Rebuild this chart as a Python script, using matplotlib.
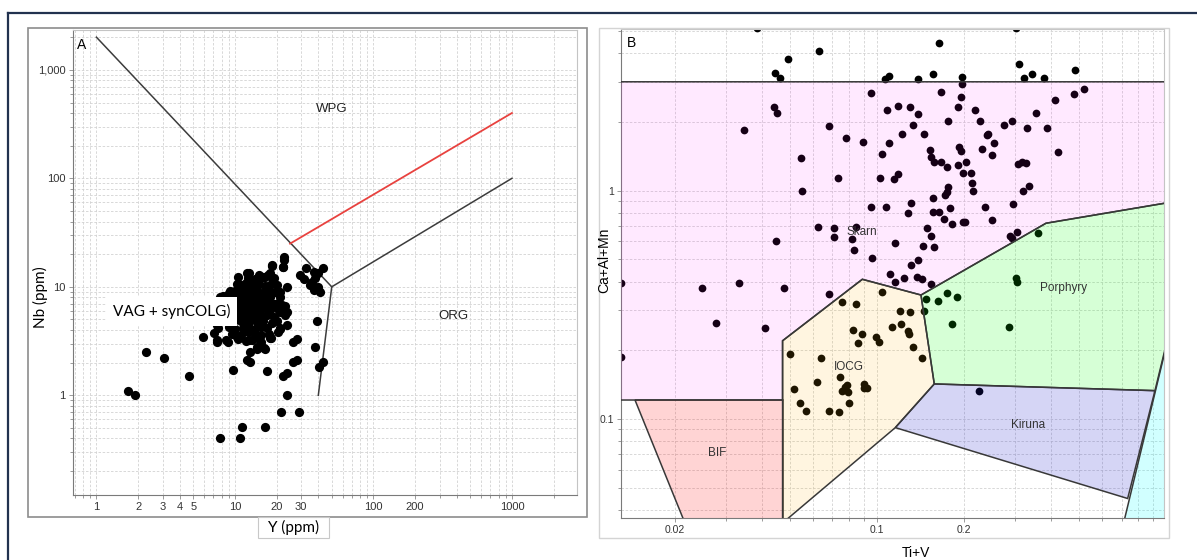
import matplotlib
matplotlib.use("Agg")
import matplotlib.pyplot as plt
import numpy as np
from matplotlib.patches import Polygon, Rectangle
from matplotlib.lines import Line2D
from matplotlib.ticker import FixedLocator, LogLocator, NullFormatter

W, H = 1197, 560

# ---------------- panel A : Nb vs Y (Pearce) ----------------
a_xticks = [1, 2, 3, 4, 5, 10, 20, 30, 100, 200, 1000]
a_xlabels = ["1", "2", "3", "4", "5", "10", "20", "30", "100", "200", "1000"]
a_yticks = [1, 10, 100, 1000]
a_ylabels = ["1", "10", "100", "1,000"]

# field boundaries (Y, Nb)
a_wpg_y, a_wpg_nb = [1, 50], [2000, 10]
a_org_y, a_org_nb = [50, 1000], [10, 100]
a_vag_y, a_vag_nb = [40, 50], [1, 10]
a_red_y, a_red_nb = [25, 1000], [25, 400]

# samples (Y ppm, Nb ppm)
a_outliers = [
    (1.70, 1.10), (1.89, 1.00), (2.28, 2.49), (3.09, 2.21), (4.69, 1.52),
    (7.8, 0.40), (10.8, 0.40), (11.2, 0.51), (16.6, 0.51),
    (9.64, 1.70), (12.2, 2.11), (12.9, 2.01), (17.1, 1.69),
    (21.5, 0.70), (29.2, 0.70), (23.6, 1.00), (22.4, 1.51), (23.9, 1.62),
    (26.1, 2.01), (27.9, 2.11), (26.4, 3.10), (28.2, 3.30),
    (38.1, 2.79), (40.3, 1.81), (43.3, 2.01), (39.0, 4.80),
    (5.9, 3.42), (7.1, 3.73), (7.39, 3.10), (8.87, 3.10),
    (13.2, 3.24), (14.4, 2.80), (16.2, 2.71), (18.3, 3.35), (20.4, 3.86),
]
a_right = [
    (29.6, 12.9), (31.6, 11.9), (32.5, 14.8), (37.1, 13.8), (39.5, 13.3),
    (43.6, 14.8), (36.0, 11.1), (39.5, 10.0), (41.0, 9.0), (37.0, 9.3),
    (34.8, 10.4), (38.0, 12.0),
]
a_core = [
    (10.5, 12.2), (12.5, 12.0), (14.0, 11.8), (16.0, 12.3), (19.0, 12.0),
    (10.3, 10.6), (11.0, 10.3), (12.0, 10.8), (13.5, 10.4), (15.0, 10.7),
    (16.5, 10.2), (18.0, 10.5), (20.0, 10.3),
    (9.6, 9.0), (10.0, 9.2), (11.5, 8.9), (12.5, 9.3), (13.5, 9.0), (14.5, 9.4),
    (16.0, 8.8), (17.5, 9.1), (19.5, 9.0),
    (8.6, 8.1), (9.5, 7.9), (10.5, 8.2), (11.5, 7.8), (12.5, 8.1), (13.5, 7.9),
    (15.0, 8.2), (16.5, 7.8), (18.0, 8.0), (21.0, 8.1),
    (8.0, 7.0), (9.0, 7.1), (10.0, 6.9), (11.0, 7.2), (12.0, 7.0), (13.0, 6.8),
    (14.0, 7.1), (15.0, 6.9), (16.0, 7.2), (17.5, 6.9), (19.0, 7.0), (22.0, 6.8),
    (7.5, 6.2), (8.5, 6.3), (9.5, 6.1), (10.5, 6.4), (11.5, 6.2), (12.5, 6.0),
    (13.5, 6.3), (14.5, 6.1), (16.0, 6.4), (18.0, 6.1), (20.5, 6.2),
    (8.0, 5.5), (9.0, 5.6), (10.0, 5.4), (11.0, 5.6), (12.0, 5.5), (13.0, 5.3),
    (14.0, 5.6), (15.5, 5.4), (17.0, 5.5), (19.0, 5.3), (23.0, 5.5),
    (7.0, 4.8), (8.0, 4.9), (9.0, 4.7), (10.0, 4.9), (11.0, 4.8), (12.0, 4.6),
    (13.0, 4.9), (14.5, 4.7), (16.0, 4.8), (18.5, 4.6),
    (7.5, 4.2), (9.0, 4.3), (10.0, 4.1), (11.5, 4.2), (12.5, 4.4), (14.0, 4.1),
    (15.5, 4.3), (17.0, 4.2), (21.0, 4.2),
    (9.5, 3.7), (11.0, 3.6), (12.5, 3.8), (14.0, 3.7), (15.5, 3.6), (17.5, 3.7),
    (10.5, 3.3), (12.0, 3.2), (15.0, 3.3),
    (13.6, 11.1), (18.9, 11.6), (23.6, 10.0), (21.2, 9.0), (10.9, 10.0),
    (9.2, 9.1), (8.2, 8.2), (7.8, 7.5), (7.0, 6.3), (6.6, 5.3), (7.4, 4.4),
    (20.5, 7.1), (23.0, 6.6), (23.7, 5.9), (21.2, 5.9), (20.0, 4.8), (23.7, 4.4),
    (17.9, 3.4), (21.2, 4.1), (15.3, 3.1), (16.4, 2.7), (14.4, 2.7), (12.9, 2.5),
    (12.6, 3.24), (10.3, 3.46), (8.6, 3.24), (7.4, 3.24), (7.8, 8.1), (9.1, 8.8),
    (12.6, 13.3), (17.3, 12.9), (18.4, 15.9), (22.3, 15.3), (22.5, 17.7),
    (14.9, 12.8), (16.4, 12.3), (12.2, 13.3), (17.9, 13.3), (18.4, 15.5),
    (22.7, 18.7), (22.4, 15.3),
]
a_points = a_outliers + a_right + a_core
a_y = [p[0] for p in a_points]
a_nb = [p[1] for p in a_points]

# ---------------- panel B : Ca+Al+Mn vs Ti+V ----------------
b_xticks = [0.02, 0.1, 0.2]
b_xlabels = ["0.02", "0.1", "0.2"]
b_yticks = [0.1, 1]
b_ylabels = ["0.1", "1"]

skarn = [(0.01, 3), (1.0, 3), (1.0, 0.884), (0.3834, 0.720), (0.1419, 0.349),
         (0.0890, 0.409), (0.0472, 0.220), (0.0472, 0.121), (0.01, 0.121)]
bif = [(0.0146, 0.121), (0.0472, 0.121), (0.0472, 0.03), (0.0227, 0.03)]
iocg = [(0.0472, 0.220), (0.0890, 0.409), (0.1419, 0.349), (0.1577, 0.1423),
        (0.1157, 0.0916), (0.0472, 0.035)]
porphyry = [(0.1419, 0.349), (0.3834, 0.720), (1.0, 0.884), (1.0, 0.215),
            (0.912, 0.133), (0.1577, 0.1423)]
kiruna = [(0.1577, 0.1423), (0.912, 0.133), (0.734, 0.0448), (0.1157, 0.0916)]
cyan_field = [(1.0, 0.215), (1.0, 0.03), (0.688, 0.03)]

b_points = [
    # above the skarn field
    (0.0385, 5.15), (0.0631, 4.09), (0.0494, 3.78), (0.0446, 3.28), (0.0464, 3.13),
    (0.1066, 3.08), (0.1103, 3.19), (0.301, 5.15), (0.164, 4.42), (0.310, 3.58),
    (0.483, 3.38), (0.1564, 3.24), (0.196, 3.16), (0.1382, 3.08), (0.322, 3.11),
    (0.344, 3.24), (0.378, 3.11),
    # skarn
    (0.0951, 2.68), (0.0442, 2.32), (0.0453, 2.20), (0.108, 2.26), (0.118, 2.35),
    (0.1297, 2.33), (0.1335, 1.94), (0.0348, 1.85), (0.0683, 1.93), (0.078, 1.70),
    (0.0893, 1.64), (0.1103, 1.61), (0.1223, 1.78), (0.1038, 1.45), (0.0545, 1.39),
    (0.0735, 1.14), (0.1024, 1.14), (0.1147, 1.13), (0.118, 1.18), (0.0550, 1.0),
    (0.0956, 0.851), (0.1072, 0.851), (0.1307, 0.883), (0.128, 0.796),
    (0.1966, 2.92), (0.1663, 2.71), (0.519, 2.79), (0.479, 2.65), (0.195, 2.57),
    (0.1905, 2.33), (0.218, 2.26), (0.1382, 2.16), (0.412, 2.49), (0.355, 2.18),
    (0.1754, 2.02), (0.227, 2.02), (0.275, 1.94), (0.292, 2.02), (0.330, 1.89),
    (0.385, 1.89), (0.1457, 1.78), (0.239, 1.75), (0.241, 1.78), (0.254, 1.62),
    (0.423, 1.47), (0.1524, 1.50), (0.1536, 1.41), (0.1574, 1.33), (0.1924, 1.56),
    (0.195, 1.49), (0.230, 1.52), (0.249, 1.43), (0.1663, 1.33), (0.174, 1.27),
    (0.203, 1.34), (0.191, 1.30), (0.306, 1.31), (0.316, 1.34), (0.326, 1.32),
    (0.198, 1.19), (0.211, 1.20), (0.213, 1.08), (0.215, 1.0), (0.176, 1.035),
    (0.174, 0.99), (0.172, 0.957), (0.320, 1.0), (0.335, 1.05), (0.1557, 0.926),
    (0.1557, 0.809), (0.164, 0.809), (0.179, 0.842), (0.236, 0.851), (0.296, 0.874),
    (0.171, 0.749), (0.182, 0.715), (0.198, 0.727), (0.202, 0.727), (0.249, 0.744),
    (0.0627, 0.695), (0.0710, 0.684), (0.0710, 0.629), (0.0844, 0.695), (0.0818, 0.614),
    (0.0835, 0.550), (0.0448, 0.602), (0.1154, 0.592), (0.0963, 0.509), (0.1111, 0.430),
    (0.1154, 0.397), (0.1236, 0.416), (0.1310, 0.471), (0.0131, 0.393), (0.0248, 0.376),
    (0.0335, 0.393), (0.0476, 0.376), (0.0683, 0.352), (0.0278, 0.264), (0.0409, 0.250),
    (0.0131, 0.1875), (0.1484, 0.689), (0.1536, 0.633), (0.1445, 0.574), (0.1574, 0.568),
    (0.288, 0.635), (0.293, 0.619), (0.305, 0.661), (0.1388, 0.497), (0.1378, 0.420),
    (0.1427, 0.412), (0.1536, 0.390),
    # porphyry
    (0.359, 0.651), (0.301, 0.416), (0.304, 0.397), (0.174, 0.357), (0.189, 0.341),
    (0.1628, 0.329), (0.1476, 0.3355), (0.1457, 0.298), (0.181, 0.2607), (0.286, 0.2537),
    # iocg
    (0.0759, 0.3254), (0.0846, 0.319), (0.1038, 0.359), (0.1127, 0.2537), (0.1207, 0.2615),
    (0.1276, 0.2436), (0.129, 0.2356), (0.1198, 0.298), (0.130, 0.295), (0.0824, 0.2454),
    (0.0885, 0.2356), (0.086, 0.2159), (0.0992, 0.228), (0.1016, 0.2168), (0.1335, 0.2067),
    (0.1434, 0.1855), (0.0501, 0.1927), (0.0642, 0.1845), (0.0517, 0.1353), (0.0619, 0.1448),
    (0.0747, 0.1523), (0.0775, 0.1385), (0.0755, 0.133), (0.0796, 0.1317), (0.0786, 0.1413),
    (0.0904, 0.1419), (0.0926, 0.1363), (0.0904, 0.1363), (0.0542, 0.1172), (0.0567, 0.1087),
    (0.0683, 0.1087), (0.0739, 0.107), (0.080, 0.1179),
    # kiruna
    (0.225, 0.133),
]
b_x = [p[0] for p in b_points]
b_y = [p[1] for p in b_points]


def fx(px):
    return px / W


def fy(py):
    return 1 - py / H


def style_log_axes(ax, labelsize):
    ax.set_xscale("log")
    ax.set_yscale("log")
    ax.xaxis.set_minor_locator(LogLocator(base=10, subs=np.arange(1, 10), numticks=30))
    ax.yaxis.set_minor_locator(LogLocator(base=10, subs=np.arange(1, 10), numticks=30))
    ax.xaxis.set_minor_formatter(NullFormatter())
    ax.yaxis.set_minor_formatter(NullFormatter())
    ax.grid(True, which="both", ls=(0, (3, 2)), color="#d2d2d2", lw=0.6)
    ax.set_axisbelow(True)
    ax.tick_params(which="both", direction="out", color="#8a8a8a", width=0.6,
                   labelsize=labelsize, labelcolor="#333333", pad=2)
    ax.tick_params(which="major", length=3)
    ax.tick_params(which="minor", length=2)
    for side in ["left", "bottom"]:
        ax.spines[side].set_color("#7a7a7a")
    for side in ["top", "right"]:
        ax.spines[side].set_color("#c4c4c4")


fig = plt.figure(figsize=(W / 100, H / 100), dpi=100)

# page border (dark blue) and panel frames
fig.add_artist(Line2D([fx(7.5), fx(7.5)], [0, fy(12.5)], color="#22324f", lw=1.6))
fig.add_artist(Line2D([fx(7.5), 1], [fy(12.5), fy(12.5)], color="#22324f", lw=1.6))
fig.add_artist(Rectangle((fx(28), fy(517)), fx(587) - fx(28), fy(28) - fy(517),
                         transform=fig.transFigure, fill=False, ec="#8c8c8c", lw=1.2))
fig.add_artist(Rectangle((fx(599), fy(538)), fx(1169) - fx(599), fy(28) - fy(538),
                         transform=fig.transFigure, fill=False, ec="#d4d4d4", lw=1.0))

# ---- panel A ----
axA = fig.add_axes([fx(72.7), fy(495), fx(577) - fx(72.7), fy(30) - fy(495)])
style_log_axes(axA, 8)
axA.set_xlim(0.674, 2950)
axA.set_ylim(0.1205, 2330)
axA.xaxis.set_major_locator(FixedLocator(a_xticks))
axA.set_xticklabels(a_xlabels, family="Liberation Sans")
axA.yaxis.set_major_locator(FixedLocator(a_yticks))
axA.set_yticklabels(a_ylabels, family="Liberation Sans")

axA.plot(a_wpg_y, a_wpg_nb, color="#3c3c3c", lw=1.1, zorder=2)
axA.plot(a_org_y, a_org_nb, color="#3c3c3c", lw=1.1, zorder=2)
axA.plot(a_vag_y, a_vag_nb, color="#3c3c3c", lw=1.1, zorder=2)
axA.plot(a_red_y, a_red_nb, color="#e8423f", lw=1.3, zorder=2)
axA.scatter(a_y, a_nb, s=44, c="black", linewidths=0, zorder=3)

axA.text(0.008, 0.968, "A", transform=axA.transAxes, fontsize=10,
         family="Liberation Sans", va="center", ha="left")
axA.text(50, 440, "WPG", fontsize=9.5, family="Liberation Sans", color="#222222",
         ha="center", va="center")
axA.text(380, 5.4, "ORG", fontsize=9.5, family="Liberation Sans", color="#222222",
         ha="center", va="center")
axA.text(3.5, 5.9, "VAG + synCOLG)", fontsize=11, family="Lato", ha="center",
         va="center", zorder=5,
         bbox=dict(boxstyle="square,pad=0.45", fc="white", ec="none"))

fig.text(fx(40), fy(297), "Nb (ppm)", rotation=90, fontsize=11, family="Lato",
         ha="center", va="center")
fig.add_artist(Rectangle((fx(258), fy(538)), fx(329) - fx(258), fy(517) - fy(538),
                         transform=fig.transFigure, fc="white", ec="#c8c8c8", lw=0.8,
                         zorder=5))
fig.text(fx(293.5), fy(527.5), "Y (ppm)", fontsize=11, family="Lato",
         ha="center", va="center", zorder=6)

# ---- panel B ----
axB = fig.add_axes([fx(621), fy(518), fx(1164) - fx(621), fy(29) - fy(518)])
style_log_axes(axB, 7.5)
axB.set_xlim(0.01306, 0.98)
axB.set_ylim(0.0368, 5.11)
axB.xaxis.set_major_locator(FixedLocator(b_xticks))
axB.set_xticklabels(b_xlabels, family="Liberation Sans")
axB.yaxis.set_major_locator(FixedLocator(b_yticks))
axB.set_yticklabels(b_ylabels, family="Liberation Sans")

axB.scatter(b_x, b_y, s=31, c="black", linewidths=0, zorder=2)

fields = [
    (skarn, (1.0, 0.0, 1.0, 0.085)),
    (bif, (1.0, 0.0, 0.0, 0.17)),
    (iocg, (1.0, 0.7, 0.0, 0.12)),
    (porphyry, (0.0, 1.0, 0.0, 0.16)),
    (kiruna, (0.1, 0.1, 0.8, 0.18)),
    (cyan_field, (0.0, 1.0, 1.0, 0.18)),
]
for verts, col in fields:
    axB.add_patch(Polygon(verts, closed=True, fc=col, ec="#383838", lw=1.1, zorder=3))

lab_kw = dict(fontsize=8.5, family="Liberation Sans", color="#333333",
              ha="center", va="center", zorder=4)
axB.text(0.0885, 0.661, "Skarn", **lab_kw)
axB.text(0.0802, 0.1695, "IOCG", **lab_kw)
axB.text(0.442, 0.3736, "Porphyry", **lab_kw)
axB.text(0.3327, 0.0941, "Kiruna", **lab_kw)
axB.text(0.0281, 0.0708, "BIF", **lab_kw)
axB.text(0.02, 0.971, "B", transform=axB.transAxes, fontsize=10,
         family="Liberation Sans", va="center", ha="center")

fig.text(fx(604), fy(260), "Ca+Al+Mn", rotation=90, fontsize=10,
         family="Liberation Sans", ha="center", va="center")
fig.text(fx(916), fy(553), "Ti+V", fontsize=10, family="Liberation Sans",
         ha="center", va="center")

plt.savefig("out.png", dpi=100)
